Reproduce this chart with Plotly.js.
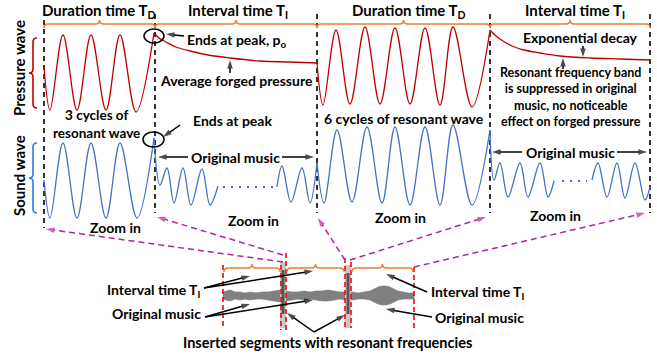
<!DOCTYPE html>
<html><head><meta charset="utf-8">
<script src="https://cdn.plot.ly/plotly-3.0.1.min.js"></script>
<style>html,body{margin:0;padding:0;background:#fff;overflow:hidden}</style>
</head><body><div id="chart" style="width:657px;height:356px"></div>
<script>
// ---------- data (diagram coordinates) ----------
// pressure wave (red)
const pressureBurst1X = [44, 50, 63, 77, 91, 106, 120, 136, 154];
const pressureBurst1Y = [67, 110, 35, 110, 35, 110, 35, 112, 33];
const pressureDecay1X = [154, 159, 166, 176, 190, 208, 230, 260, 290, 317];
const pressureDecay1Y = [33, 38, 42, 47, 51, 55, 58, 61, 62, 63];
const pressureBurst2X = [317, 323, 336, 350, 365, 380, 395, 410, 425, 440, 453, 472, 490];
const pressureBurst2Y = [63, 105, 30, 104, 27, 104, 28, 104, 28, 105, 27, 107, 30];
const pressureDecay2X = [490, 496, 503, 512, 524, 540, 560, 590, 620, 650];
const pressureDecay2Y = [30, 36, 41, 46, 50, 53, 56, 58, 59, 60];
// sound wave (blue)
const soundBurst1X = [44, 50, 63, 77, 91, 106, 120, 137, 154];
const soundBurst1Y = [180, 218, 143, 218, 143, 218, 143, 218, 138];
const music1X = [154, 160, 167, 174, 183, 191, 202, 210, 218];
const music1Y = [138, 185, 168, 203, 168, 205, 169, 205, 186];
const dots1X = [223, 273];
const dots1Y = [187, 187];
const music2X = [277, 282, 291, 302, 310, 317];
const music2Y = [187, 166, 202, 168, 203, 163];
const soundBurst2X = [317, 324, 337, 352, 367, 382, 395, 410, 425, 440, 453, 472, 490];
const soundBurst2Y = [163, 203, 130, 202, 127, 203, 127, 205, 127, 205, 125, 205, 130];
const music3X = [490, 494, 500, 508, 520, 528, 540, 548, 554];
const music3Y = [130, 180, 163, 197, 163, 197, 163, 197, 181];
const dots2X = [562, 587];
const dots2Y = [181, 181];
const music4X = [592, 598, 607, 617, 625, 635, 645, 650];
const music4Y = [180, 163, 197, 163, 198, 163, 200, 187];
// recorded music band (bottom)
const audioX = [223, 226, 230, 235, 240, 245, 250, 256, 262, 268, 274, 280, 286, 292, 298, 304, 310, 316, 322, 328, 334, 340, 346, 352, 358, 364, 370, 374, 378, 382, 386, 390, 394, 398, 403, 408, 414];
const audioTop = [292, 291, 290, 292, 292, 293, 292, 293, 292, 292, 291, 290, 291, 292, 292, 291, 292, 291, 291, 290, 291, 292, 292, 292, 293, 292, 291, 289, 287, 286, 286, 287, 289, 291, 292, 293, 293];
const audioBot = [299, 300, 301, 299, 300, 299, 300, 299, 299, 300, 301, 302, 301, 300, 299, 300, 299, 300, 301, 301, 300, 299, 300, 300, 299, 299, 300, 302, 304, 305, 305, 304, 302, 300, 299, 299, 299];
const segmentX = [283, 348];
const segmentTop = [262, 265];
const segmentBot = [328, 328];
// vertical separators
const sepX = [44, 155, 317, 490, 650];
const sepTop = [20, 14, 14, 14, 14];
const sepBot = [228, 213, 213, 213, 213];
const redSepX = [223, 281, 286, 345, 351, 414];
const redSepTop = [265, 265, 253, 258, 262, 267];
const redSepBot = [326, 330, 330, 328, 328, 328];
// braces
const topBraceX0 = [44, 155, 317, 490];
const topBraceX1 = [155, 317, 490, 650];
const topBraceY = 24;
const botBraceX0 = [224, 287, 352];
const botBraceX1 = [280, 344, 413];
const botBraceY = 268;
// zoom-in links
const linkFromX = [283, 283, 345, 350, 414];
const linkFromY = [262, 255, 260, 260, 267];
const linkToX = [46, 157, 318, 486, 645];
const linkToY = [229, 217, 218, 217, 213];

// ---------- styles ----------
const RED = '#C00000', BLUE = '#4472C4', ORANGE = '#ED7D31', PURPLE = '#B0259E';
const FONT = 'Lato, "Open Sans", sans-serif';

const traces = [];
function line(x, y, color, width, dash, shape) {
  traces.push({type: 'scatter', mode: 'lines', x: x, y: y, hoverinfo: 'skip',
    line: {color: color, width: width, dash: dash || 'solid', shape: shape || 'linear', smoothing: 1}});
}
function arrow(x0, y0, x1, y1, color, dash) {
  traces.push({type: 'scatter', mode: 'lines+markers', x: [x0, x1], y: [y0, y1], hoverinfo: 'skip',
    line: {color: color || '#000', width: 1.5, dash: dash || 'solid'},
    marker: {symbol: 'arrow', size: [0, 9], angleref: 'previous', color: color || '#000', line: {width: 0}}});
}
// audio band
traces.push({type: 'scatter', mode: 'lines', x: audioX.concat(audioX.slice().reverse()),
  y: audioTop.concat(audioBot.slice().reverse()), fill: 'toself', fillcolor: '#808080',
  line: {color: '#777', width: 0.6}, hoverinfo: 'skip'});
// inserted segments
segmentX.forEach((sx, i) => {
  traces.push({type: 'scatter', mode: 'lines', x: [sx, sx], y: [segmentTop[i], segmentBot[i]],
    line: {color: '#c8c8c8', width: 6}, hoverinfo: 'skip'});
  traces.push({type: 'scatter', mode: 'lines', x: [sx, sx], y: [segmentTop[i] + 8, segmentBot[i] - 14],
    line: {color: '#555', width: 3}, hoverinfo: 'skip'});
});
// separators
sepX.forEach((sx, i) => line([sx, sx], [sepTop[i], sepBot[i]], '#000', 1.6, '5px,4px'));
redSepX.forEach((sx, i) => line([sx, sx], [redSepTop[i], redSepBot[i]], '#FF0000', 1.6, '5px,3px'));
// zoom-in links (dashed arrows)
linkFromX.forEach((fx, i) => arrow(fx, linkFromY[i], linkToX[i], linkToY[i], PURPLE, '6px,4px'));
// waves
line(pressureBurst1X, pressureBurst1Y, RED, 1.3, null, 'spline');
line(pressureDecay1X, pressureDecay1Y, RED, 1.3, null, 'spline');
line(pressureBurst2X, pressureBurst2Y, RED, 1.3, null, 'spline');
line(pressureDecay2X, pressureDecay2Y, RED, 1.3, null, 'spline');
line(soundBurst1X, soundBurst1Y, BLUE, 1.3, null, 'spline');
line(music1X, music1Y, BLUE, 1.3, null, 'spline');
line(dots1X, dots1Y, BLUE, 2, '2px,6px');
line(music2X, music2Y, BLUE, 1.3, null, 'spline');
line(soundBurst2X, soundBurst2Y, BLUE, 1.3, null, 'spline');
line(music3X, music3Y, BLUE, 1.3, null, 'spline');
line(dots2X, dots2Y, BLUE, 2, '2px,6px');
line(music4X, music4Y, BLUE, 1.3, null, 'spline');

// black arrows
arrow(184, 36, 166, 34);
arrow(230, 73, 230, 60);
arrow(583, 46, 583, 57);
arrow(563, 69, 563, 58);
arrow(180, 125, 163, 137);
arrow(188, 157, 158, 157);
arrow(282, 157, 314, 157);
arrow(522, 152, 492, 152);
arrow(617, 152, 647, 152);
arrow(204, 288, 250, 276);
arrow(204, 288, 313, 271);
arrow(205, 317, 250, 304);
arrow(205, 317, 313, 300);
arrow(314, 332, 287, 313);
arrow(314, 332, 345, 315);
arrow(427, 292, 386, 274);
arrow(432, 317, 386, 309);

// ---------- shapes ----------
function braceUp(x0, x1, y, d) {
  const m = (x0 + x1) / 2;
  return `M${x0},${y + d} Q${x0},${y} ${x0 + d},${y} L${m - d},${y} Q${m},${y} ${m},${y - d} Q${m},${y} ${m + d},${y} L${x1 - d},${y} Q${x1},${y} ${x1},${y + d}`;
}
function braceLeft(x, y0, y1, d) {
  const m = (y0 + y1) / 2;
  return `M${x + d},${y0} Q${x},${y0} ${x},${y0 + d} L${x},${m - d} Q${x},${m} ${x - d},${m} Q${x},${m} ${x},${m + d} L${x},${y1 - d} Q${x},${y1} ${x + d},${y1}`;
}
const shapes = [];
topBraceX0.forEach((x0, i) => shapes.push({type: 'path', xref: 'x', yref: 'y', path: braceUp(x0, topBraceX1[i], topBraceY, 4), line: {color: ORANGE, width: 1.6}}));
botBraceX0.forEach((x0, i) => shapes.push({type: 'path', xref: 'x', yref: 'y', path: braceUp(x0, botBraceX1[i], botBraceY, 4), line: {color: ORANGE, width: 1.5}}));
shapes.push({type: 'path', xref: 'x', yref: 'y', path: braceLeft(33, 38, 108, 4), line: {color: RED, width: 1.6}});
shapes.push({type: 'path', xref: 'x', yref: 'y', path: braceLeft(33, 143, 213, 4), line: {color: '#2F7BDB', width: 1.6}});
shapes.push({type: 'circle', xref: 'x', yref: 'y', x0: 144, x1: 164, y0: 29, y1: 43, line: {color: '#000', width: 1.5}});
shapes.push({type: 'circle', xref: 'x', yref: 'y', x0: 143, x1: 164, y0: 132, y1: 147, line: {color: '#000', width: 1.5}});

// ---------- text ----------
const ann = [];
function txt(x, y, text, size, opts) {
  ann.push(Object.assign({x: x, y: y, xref: 'x', yref: 'y', text: '<b>' + text + '</b>', showarrow: false,
    borderpad: 0, font: {family: FONT, size: size || 14, color: '#000', weight: 'bold'},
    xanchor: 'center', yanchor: 'middle'}, opts || {}));
}
txt(99, 11, 'Duration time T<sub>D</sub>', 15);
txt(238, 11, 'Interval time T<sub>I</sub>', 15);
txt(409, 11, 'Duration time T<sub>D</sub>', 15);
txt(575, 11, 'Interval time T<sub>I</sub>', 15);
txt(19, 68, 'Pressure wave', 15, {textangle: -90});
txt(19, 176, 'Sound wave', 15, {textangle: -90});
txt(186, 40, 'Ends at peak, p<sub>o</sub>', 14, {xanchor: 'left'});
txt(236, 80, 'Average forged pressure', 14);
txt(580, 37, 'Exponential decay', 14);
txt(570, 97, 'Resonant frequency band<br>is suppressed in original<br>music, no noticeable<br>effect on forged pressure', 12.5);
txt(96, 124, '3 cycles of<br>resonant wave', 13.5);
txt(232, 120, 'Ends at peak', 14);
txt(235, 157, 'Original music', 14);
txt(404, 118, '6 cycles of resonant wave', 14);
txt(570, 152, 'Original music', 14);
txt(115, 227, 'Zoom in', 14);
txt(253, 220, 'Zoom in', 14);
txt(400, 217, 'Zoom in', 14);
txt(555, 215, 'Zoom in', 14);
txt(201, 290, 'Interval time T<sub>I</sub>', 14, {xanchor: 'right'});
txt(202, 313, 'Original music', 14, {xanchor: 'right'});
txt(327, 342, 'Inserted segments with resonant frequencies', 14.5);
txt(430, 292, 'Interval time T<sub>I</sub>', 14, {xanchor: 'left'});
txt(434, 317, 'Original music', 14, {xanchor: 'left'});

const layout = {
  width: 657, height: 356, margin: {l: 0, r: 0, t: 0, b: 0},
  paper_bgcolor: '#fff', plot_bgcolor: '#fff', showlegend: false,
  xaxis: {range: [0, 657], visible: false, fixedrange: true},
  yaxis: {range: [356, 0], visible: false, fixedrange: true},
  shapes: shapes, annotations: ann
};
Plotly.newPlot('chart', traces, layout, {staticPlot: true, displayModeBar: false});
</script>
</body></html>
